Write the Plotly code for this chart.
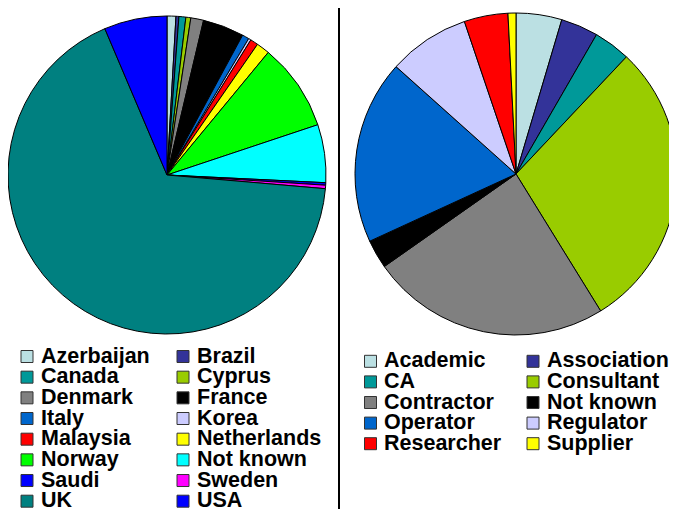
import plotly.graph_objects as go

W, H = 677, 509      # browser window
OFF = 8              # default page body margin
FW, FH = W - OFF, H - OFF

# ---- data ----
country_labels = ["Azerbaijan", "Brazil", "Canada", "Cyprus", "Denmark", "France",
                  "Italy", "Korea", "Malaysia", "Netherlands", "Norway", "Not known",
                  "Saudi", "Sweden", "UK", "USA"]
country_values = [0.9, 0.3, 0.7, 0.5, 1.3, 4.2, 0.7, 0.25, 0.8, 1.35, 8.9, 5.9,
                  0.25, 0.35, 67.3, 6.4]
country_colors = ["#BBE0E3", "#333399", "#009999", "#99CC00", "#808080", "#000000",
                  "#0066CC", "#CCCCFF", "#FF0000", "#FFFF00", "#00FF00", "#00FFFF",
                  "#0000FF", "#FF00FF", "#008080", "#0000FF"]

role_labels = ["Academic", "Association", "CA", "Consultant", "Contractor",
               "Not known", "Operator", "Regulator", "Researcher", "Supplier"]
role_values = [4.6, 3.75, 3.7, 29.2, 24.1, 2.9, 18.5, 8.2, 4.4, 0.8]
role_colors = ["#BBE0E3", "#333399", "#009999", "#99CC00", "#808080",
               "#000000", "#0066CC", "#CCCCFF", "#FF0000", "#FFFF00"]


def px_x(x):
    return min(1.0, max(0.0, (x - OFF) / FW))


def px_y(y):
    return min(1.0, max(0.0, 1 - (y - OFF) / FH))


fig = go.Figure()

# left pie
lc, lr = (167.0, 175.0), 159.0
fig.add_trace(go.Pie(
    labels=country_labels, values=country_values,
    marker=dict(colors=country_colors, line=dict(color="#000000", width=1)),
    sort=False, direction="clockwise", rotation=0, textinfo="none",
    showlegend=False,
    domain=dict(x=[px_x(lc[0] - lr), px_x(lc[0] + lr)],
                y=[px_y(lc[1] + lr), px_y(lc[1] - lr)]),
))

# right pie
rc, rr = (516.0, 174.0), 161.0
fig.add_trace(go.Pie(
    labels=role_labels, values=role_values,
    marker=dict(colors=role_colors, line=dict(color="#000000", width=1)),
    sort=False, direction="clockwise", rotation=0, textinfo="none",
    showlegend=False,
    domain=dict(x=[px_x(rc[0] - rr), px_x(rc[0] + rr)],
                y=[px_y(rc[1] + rr), px_y(rc[1] - rr)]),
))

shapes = []
annotations = []
FONT = dict(family="Liberation Sans, Arial, sans-serif", size=21.5, color="#000000")


def add_legend(labels, colors, sw_x0, text_x, col_dx, row_y0, row_dy):
    for i, (lab, col) in enumerate(zip(labels, colors)):
        r, c = divmod(i, 2)
        yc = row_y0 + r * row_dy
        x0 = sw_x0 + c * col_dx
        shapes.append(dict(type="rect", xref="paper", yref="paper",
                           x0=px_x(x0), x1=px_x(x0 + 12),
                           y0=px_y(yc + 7), y1=px_y(yc - 5),
                           fillcolor=col, line=dict(color="#333333", width=1)))
        annotations.append(dict(xref="paper", yref="paper",
                                x=px_x(text_x + c * col_dx), y=px_y(yc),
                                xanchor="left", yanchor="middle",
                                text="<b>%s</b>" % lab, showarrow=False,
                                font=FONT))


add_legend(country_labels, country_colors, 21, 39, 156, 355.5, 20.67)
add_legend(role_labels, role_colors, 364.5, 382, 162.5, 360.3, 20.6)

# separator line
shapes.append(dict(type="line", xref="paper", yref="paper",
                   x0=px_x(339), x1=px_x(339), y0=px_y(8), y1=0,
                   line=dict(color="#000000", width=2)))

fig.update_layout(
    width=FW, height=FH,
    margin=dict(l=0, r=0, t=0, b=0),
    paper_bgcolor="white", plot_bgcolor="white",
    shapes=shapes, annotations=annotations,
)

fig.write_html("out.html")
